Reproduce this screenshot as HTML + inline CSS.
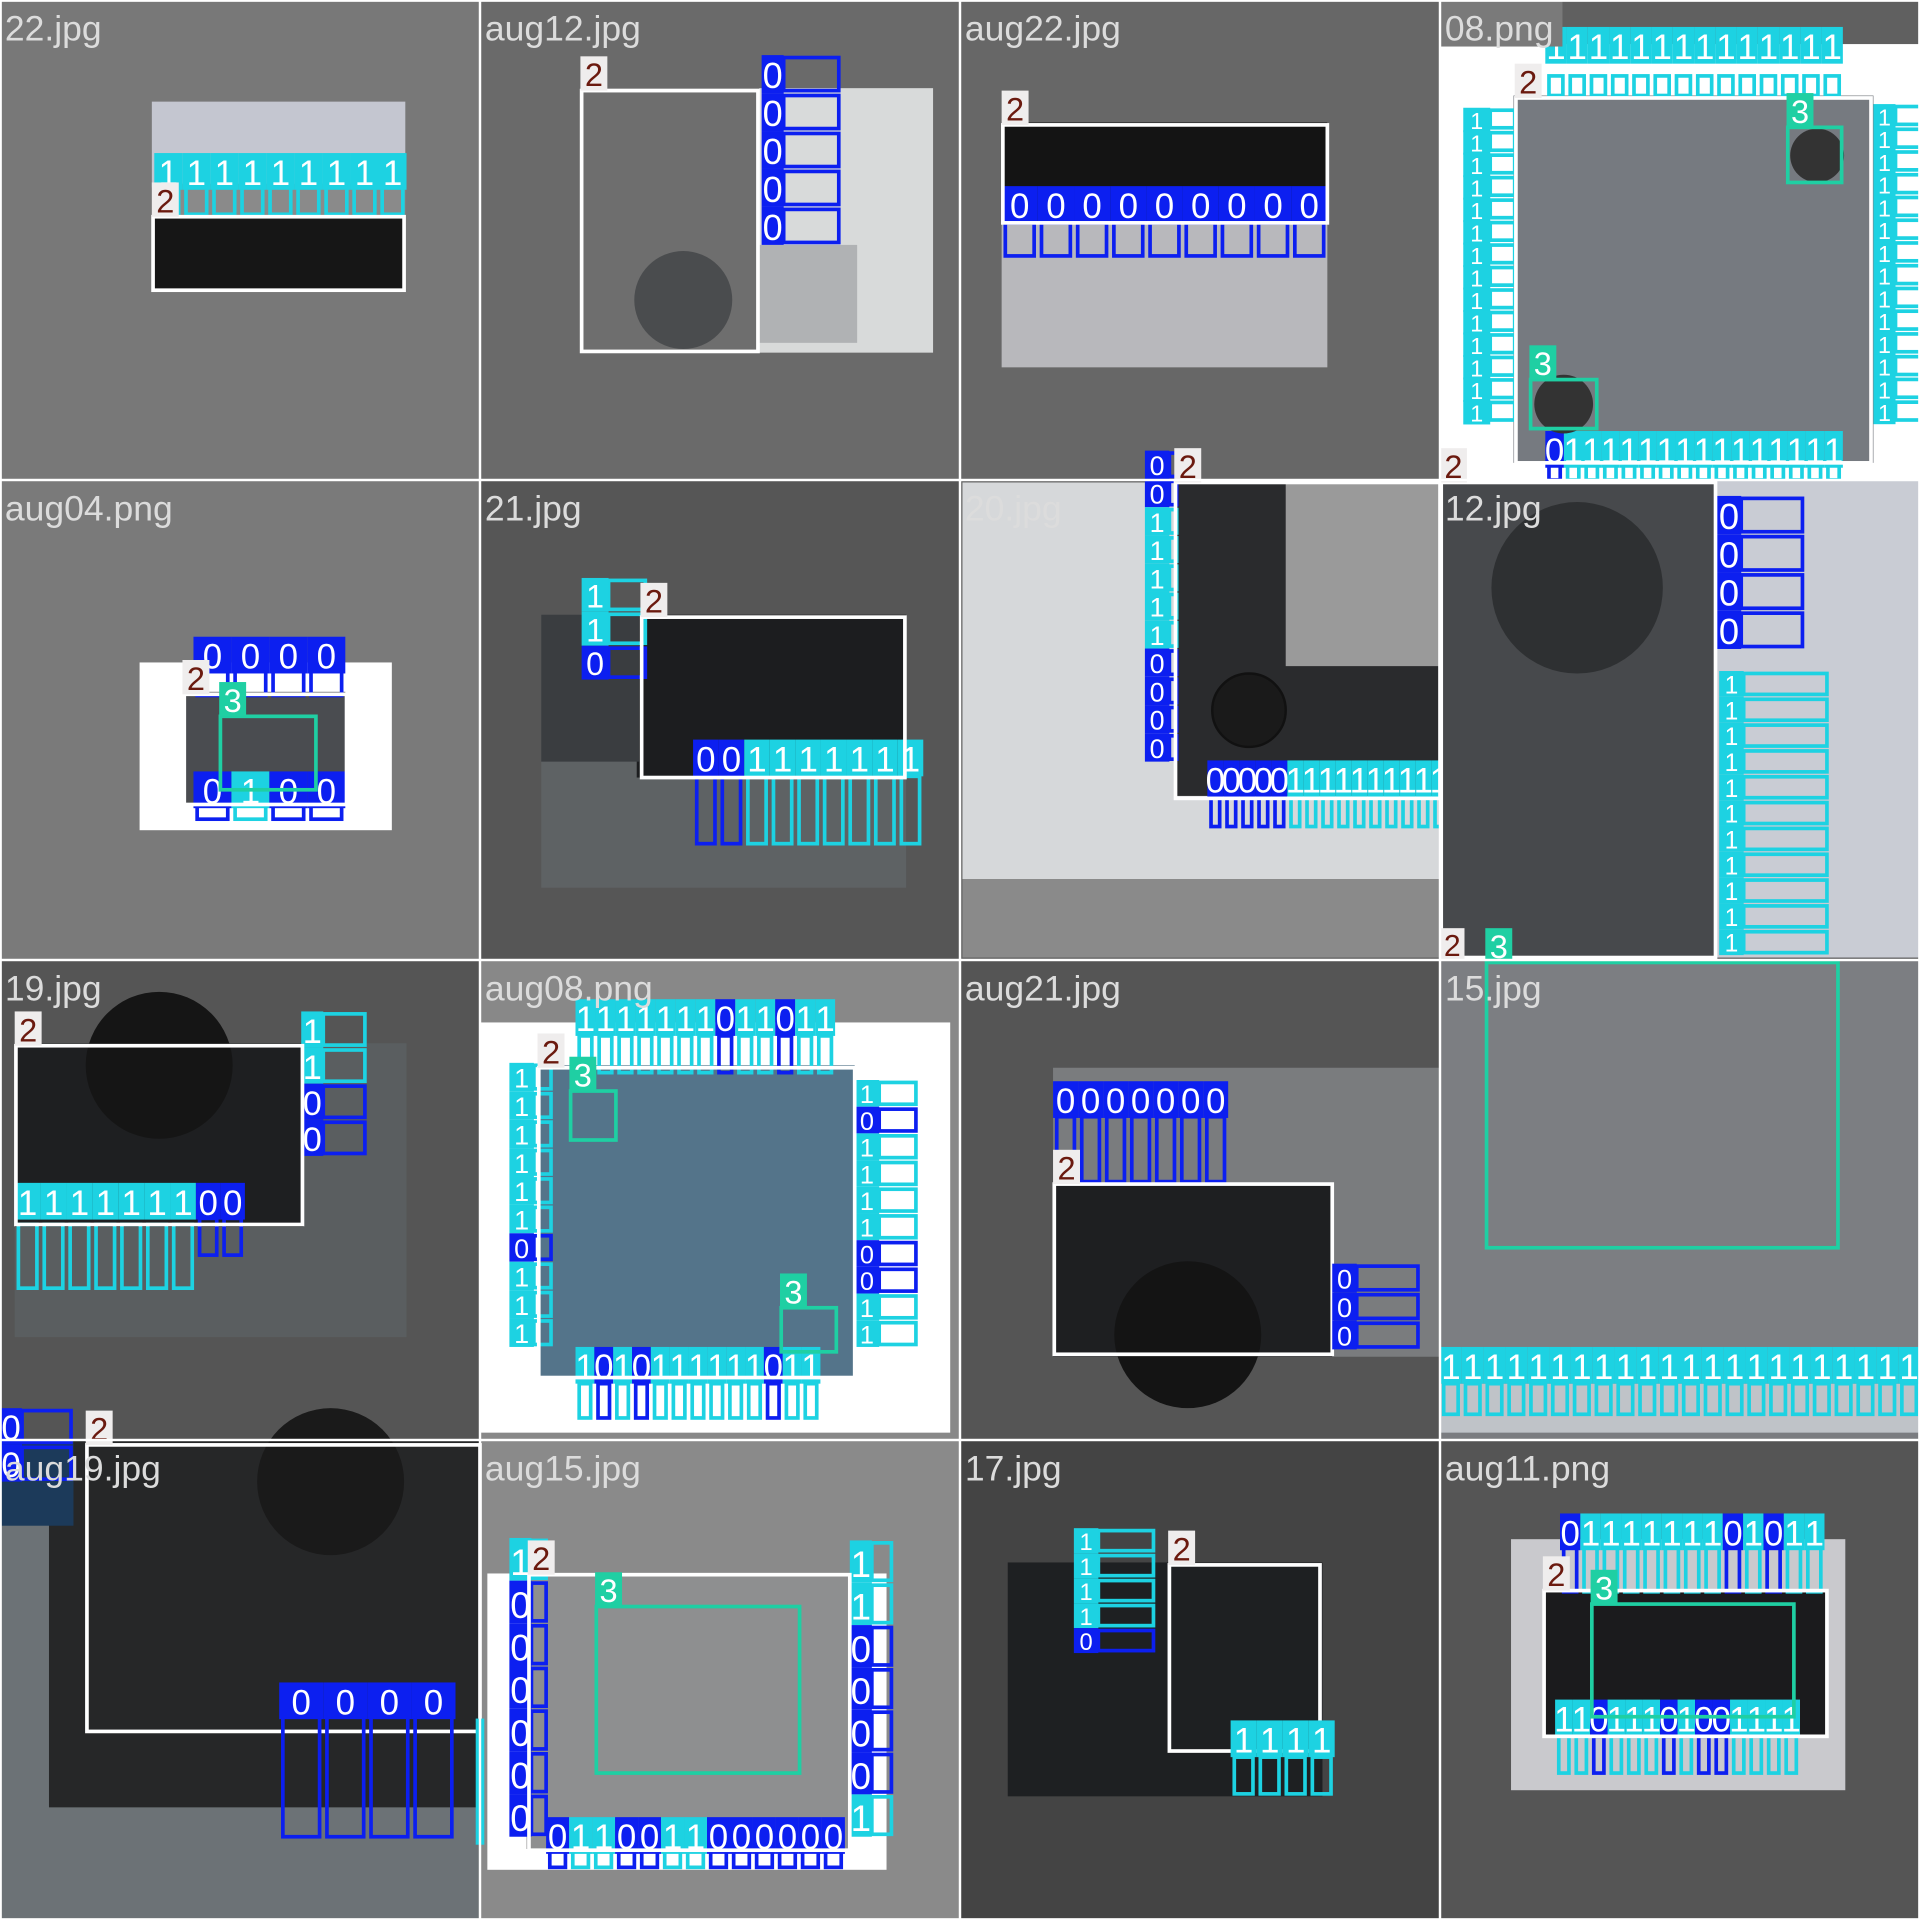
<!DOCTYPE html>
<html><head><meta charset="utf-8"><style>
html,body{margin:0;padding:0;background:#fff;width:1920px;height:1920px;overflow:hidden}
svg{display:block}
text{font-family:"Liberation Sans",Arial,sans-serif}
</style></head><body>
<svg id="mosaic" width="1920" height="1920" viewBox="0 0 1568 1568" xmlns="http://www.w3.org/2000/svg"></svg>
<script>
const C0='#0c1ff0',C1='#1dd2e2',C3='#1fcfa3';
const tileNames=['22.jpg','aug12.jpg','aug22.jpg','08.png','aug04.png','21.jpg','20.jpg','12.jpg','19.jpg','aug08.png','aug21.jpg','15.jpg','aug19.jpg','aug15.jpg','17.jpg','aug11.png'];
const tileBgs=['#787878','#6a6a6a','#676767','#606060','#7a7a7a','#565656','#5e5e5e','#5a5a5a','#555555','#888888','#555555','#7a7c80','#5c6266','#8a8a8a','#444444','#555555'];
const svg=document.getElementById('mosaic');
const NS='http://www.w3.org/2000/svg';
function el(tag,a,name){const e=document.createElementNS(NS,tag);for(const k in a)e.setAttribute(k,a[k]);


svg.appendChild(e);return e;}
function R(x,y,w,h,f,n){return el('rect',{x,y,width:w,height:h,fill:f},n||'image-region');}
function col(c){return c==0?C0:c==1?C1:c==3?C3:'#ffffff';}
function B(c,x,y,w,h){return el('rect',{x,y,width:w,height:h,fill:'none',stroke:col(c),'stroke-width':3},'class-'+c+'-box');}
function L(c,x,y,w,h){
  const bg=c==2?'#efeded':col(c);
  el('rect',{x,y,width:w,height:h,fill:bg},'class-'+c+'-label-bg');
  const t=el('text',{x:x+w/2,y:y+h*0.87,'font-size':Math.min(h*0.95,30),'text-anchor':'middle',fill:c==2?'#6b1a0f':'#ffffff'},'class-'+c+'-label');
  t.textContent=String(c);}
function box(c,x,y,w,h){B(c,x,y,w,h);L(c,x-1,y-28,22,28);}
function row(s,x0,x1,yl,by,bh){const n=s.length,w=(x1-x0)/n;for(let i=0;i<n;i++){const c=+s[i];B(c,x0+i*w+3,by,w-6,bh);}for(let i=0;i<n;i++){const c=+s[i];L(c,x0+i*w,yl,w,30);}}
function vcol(s,x,y0,y1,lw,bw){const n=s.length,h=(y1-y0)/n;for(let i=0;i<n;i++){const c=+s[i];B(c,x+lw,y0+i*h+2,bw,h-4);L(c,x,y0+i*h,lw,Math.max(h,20));}}
function title(i){const cx=(i%4)*392,cy=Math.floor(i/4)*392;const t=el('text',{x:cx+4,y:cy+33,'font-size':29,fill:'#dcdcdc'},'tile-filename');t.textContent=tileNames[i];}
for(let i=0;i<16;i++){R((i%4)*392,Math.floor(i/4)*392,392,392,tileBgs[i],'tile-background');}
// tile 0
R(124,83,207,70,'#c4c6d0');R(124,150,207,28,'#8a8a8a');R(124,176,207,62,'#161616');
row('111111111',126,332,125,150,25);box(2,125,177,205,60);
// tile 1
R(474,72,288,216,'#d8dada');R(474,72,146,216,'#6e6e6e');el('circle',{cx:558,cy:245,r:40,fill:'#4a4c4e'},'chip-dimple');
R(620,200,80,80,'#b0b2b4');box(2,475,74,144,213);
vcol('00000',622,45,200,18,45);
// tile 2
R(818,100,266,200,'#b8b8bc');R(818,100,266,82,'#141414');
row('000000000',818,1084,152,182,27);box(2,819,102,265,80);
// tile 3
R(1176,36,392,356,'#ffffff');R(1236,78,294,300,'#767a80');
row('11111111111111',1262,1505,22,62,16);row('0111111111111111',1262,1505,352,380,12);
vcol('11111111111111',1195,88,345,22,20);vcol('11111111111111',1530,85,345,18,28);
box(2,1238,80,290,298);
el('circle',{cx:1484,cy:127,r:22,fill:'#333'},'chip-mark');el('circle',{cx:1277,cy:330,r:24,fill:'#333'},'chip-mark');
box(3,1460,104,44,45);box(3,1250,310,54,40);
el('rect',{x:1176,y:0,width:100,height:38,fill:'#7a7a7a'},'title-strip');
// tile 4
R(114,541,206,137,'#ffffff');R(152,565,130,92,'#4a4c50');
row('0000',158,282,520,548,20);row('0100',158,282,630,655,14);box(2,150,567,133,90);box(3,180,585,78,60);
// tile 5
R(442,502,298,223,'#5e6264');R(520,502,220,133,'#1c1d1f');R(442,502,80,120,'#3a3d40');
vcol('110',475,472,555,22,30);row('001111111',566,754,604,634,55);box(2,524,504,215,131);
// tile 6
R(786,394,390,324,'#d6d8da');R(786,718,390,64,'#8a8a8a');R(960,394,216,256,'#2a2b2d');R(1050,394,126,150,'#9a9a9a');
el('circle',{cx:1020,cy:580,r:30,fill:'#1a1a1a',stroke:'#111','stroke-width':2},'chip-dimple');
vcol('00111110000',935,368,622,20,6);row('000001111111111',986,1182,621,650,25);box(2,960,394,216,258);
// tile 7
R(1176,392,392,390,'#c9ccd4');R(1176,392,226,390,'#47494c');el('circle',{cx:1288,cy:480,r:70,fill:'#2e3032'},'chip-dimple');
vcol('0000',1402,405,530,20,50);vcol('11111111111',1404,548,780,20,68);box(2,1177,394,224,388);
L(2,1176,758,20,26);
// tile 8
R(12,852,320,240,'#5a5e60');R(12,852,236,150,'#1e1f21');el('circle',{cx:130,cy:870,r:60,fill:'#151515'},'chip-dimple');
vcol('1100',246,826,944,18,34);row('1111111',12,160,966,1000,52);row('00',160,200,966,995,30);box(2,13,854,234,146);
// tile 9
R(392,835,384,335,'#ffffff');R(440,870,258,255,'#54748a');
row('1111111011011',470,682,816,846,30);row('1010111111011',470,670,1100,1130,28);
vcol('1111110111',416,868,1100,20,14);vcol('1011110011',698,882,1100,20,30);
box(2,440,872,258,253);box(3,466,891,37,40);box(3,638,1068,45,36);
// tile 10
R(860,872,316,236,'#7a7c7e');R(860,966,228,142,'#1e1f21');el('circle',{cx:970,cy:1090,r:60,fill:'#141414'},'chip-dimple');
row('0000000',860,1003,883,912,53);box(2,861,967,227,139);vcol('000',1088,1032,1102,20,50);
// tile 11
R(1176,784,392,346,'#7c7e82');R(1176,1130,392,40,'#bfc3c8');
row('1111111111111111111111',1176,1568,1100,1130,25);box(3,1214,786,287,233);
// tile 12
R(0,1176,392,392,'#6c7276');R(40,1176,352,300,'#262728');el('circle',{cx:270,cy:1210,r:60,fill:'#1a1a1a'},'chip-dimple');
R(0,1176,60,70,'#1c3a5a');vcol('00',0,1150,1210,18,40);box(2,71,1180,321,234);
row('0000',228,372,1374,1400,100);B(1,390,1405,4,100);
// tile 13
R(398,1285,326,242,'#ffffff');R(430,1285,265,225,'#8e8f90');
vcol('1000000',416,1256,1500,18,12);vcol('1100001',694,1258,1500,18,16);
row('0110011000000',446,690,1484,1510,15);box(2,432,1286,262,225);box(3,487,1312,166,136);
// tile 14
R(823,1276,257,191,'#1e2022');box(2,955,1278,123,152);
vcol('11110',877,1248,1350,20,45);row('1111',1005,1090,1405,1435,30);
// tile 15
R(1234,1257,273,205,'#c9c9cd');R(1260,1298,232,120,'#1b1b1d');
row('0111111101011',1274,1490,1236,1264,36);row('11011101001111',1270,1470,1388,1418,30);
box(2,1261,1299,231,119);box(3,1300,1310,165,92);
for(let i=0;i<16;i++)title(i);
for(let k=1;k<4;k++){el('rect',{x:k*392-1,y:0,width:2,height:1568,fill:'#ffffff'},'grid-divider');el('rect',{x:0,y:k*392-1,width:1568,height:2,fill:'#ffffff'},'grid-divider');}
el('rect',{x:0,y:0,width:1568,height:1568,fill:'none',stroke:'#ffffff','stroke-width':3},'mosaic-border');
</script>
</body></html>
